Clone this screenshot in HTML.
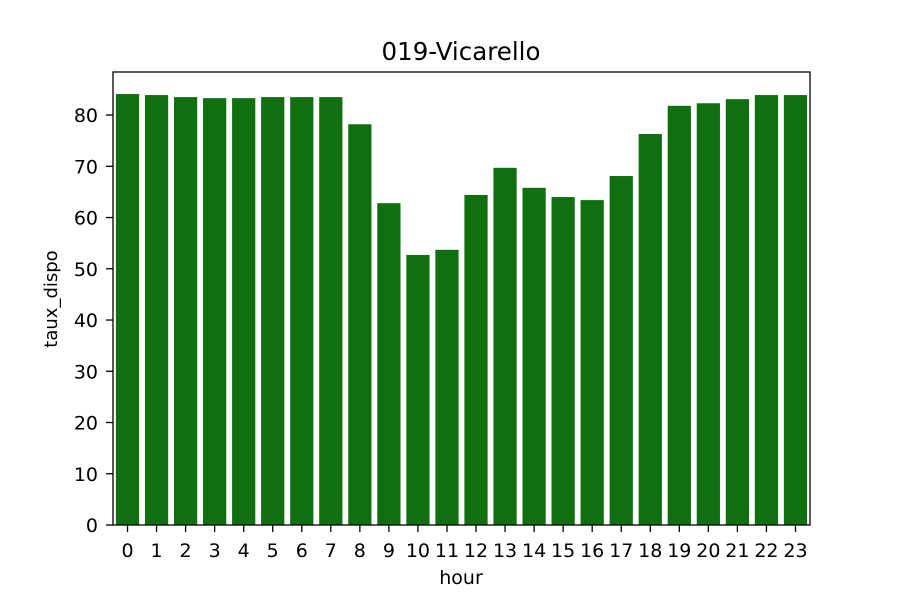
<!DOCTYPE html>
<html><head><meta charset="utf-8"><style>
body{margin:0;background:#fff}
svg text{font-family:"DejaVu Sans","Liberation Sans",sans-serif;fill:#000}
</style></head><body>
<svg id="chart" width="900" height="600" xmlns="http://www.w3.org/2000/svg">
<rect width="900" height="600" fill="#fff"/>
<text x="461" y="60" font-size="24.5" text-anchor="middle">019-Vicarello</text>
<g id="bars"></g>
<g id="axes"></g>
<text x="461" y="584" font-size="19" text-anchor="middle">hour</text>
<text transform="translate(57,299) rotate(-90)" font-size="18" text-anchor="middle">taux_dispo</text>
</svg>
<script>
const categories=["0","1","2","3","4","5","6","7","8","9","10","11","12","13","14","15","16","17","18","19","20","21","22","23"];
const values=[84.1,83.9,83.5,83.3,83.3,83.5,83.5,83.5,78.2,62.8,52.7,53.7,64.4,69.7,65.8,64.0,63.4,68.1,76.3,81.8,82.3,83.1,83.9,83.9];
const yTicks=[0,10,20,30,40,50,60,70,80];
const L=113,R=810,T=72,B=525,yMax=88.4;
const NS="http://www.w3.org/2000/svg";
const y=v=>B-(v/yMax)*(B-T);
const step=(R-L)/categories.length;
const x=i=>L+step*i;
const bars=document.getElementById('bars'),axes=document.getElementById('axes');
function mk(tag,attrs,parent){const e=document.createElementNS(NS,tag);for(const k in attrs)e.setAttribute(k,attrs[k]);parent.appendChild(e);return e;}
values.forEach((v,i)=>{
 const r=mk('rect',{x:x(i)+step*0.1,y:y(v),width:step*0.8,height:B-y(v),fill:'#107010'},bars);
 
 
 const t=mk('line',{x1:x(i)+step/2,x2:x(i)+step/2,y1:B,y2:B+7,stroke:'#000','stroke-width':1.3},axes);
 
 
 const lb=mk('text',{x:x(i)+step/2,y:B+32,'font-size':19,'text-anchor':'middle'},axes);
 lb.textContent=categories[i];
 
 
});
yTicks.forEach(v=>{
 const t=mk('line',{x1:L-7,x2:L,y1:y(v),y2:y(v),stroke:'#000','stroke-width':1.3},axes);
 
 
 const lb=mk('text',{x:L-15,y:y(v)+7,'font-size':19,'text-anchor':'end'},axes);
 lb.textContent=v;
 
 
});
const f=mk('rect',{x:L,y:T,width:R-L,height:B-T,fill:'none',stroke:'#000','stroke-width':1.3},axes);


</script>
</body></html>
